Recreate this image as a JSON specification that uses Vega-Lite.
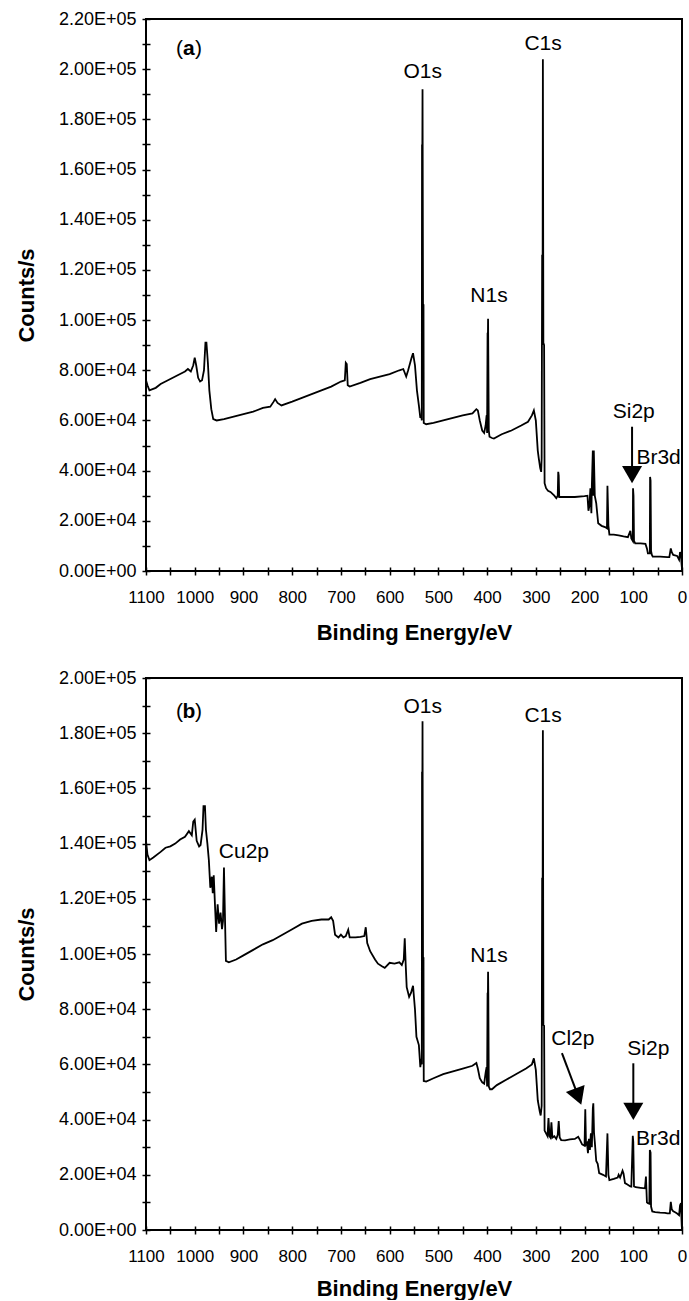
{
"$schema": "https://vega.github.io/schema/vega-lite/v6.json",
"padding": {"left": 14, "top": 9, "right": 4, "bottom": 0},
"background": "white",
"spacing": 24,
"config": {
  "view": {"stroke": "black", "strokeWidth": 2},
  "font": "Liberation Sans",
  "axis": {"domain": false, "grid": false, "offset": -4, "tickSize": 8, "tickWidth": 1.5, "tickColor": "black",
    "labelFont": "Liberation Sans", "labelColor": "black", "labelOverlap": false, "labelFlush": false,
    "titleFont": "Liberation Sans", "titleFontSize": 22, "titleFontWeight": "bold", "titleColor": "black"},
  "axisX": {"labelPadding": 14, "labelFontSize": 17},
  "axisY": {"labelPadding": 6, "titlePadding": 20, "labelFontSize": 18}
},
"datasets": {
  "sa": [
    {"E":1100,"c":76000},{"E":1097,"c":74000},{"E":1093,"c":72000},{"E":1080,"c":73000},{"E":1070,"c":74500},{"E":1060,"c":75500},{"E":1050,"c":76500},{"E":1040,"c":77500},{"E":1030,"c":78500},{"E":1020,"c":79500},{"E":1014,"c":80500},{"E":1008,"c":79500},{"E":1003,"c":82000},{"E":1000,"c":85000},{"E":997,"c":82000},{"E":993,"c":77000},{"E":989,"c":75500},{"E":985,"c":76000},{"E":981,"c":80000},{"E":978,"c":91000},{"E":976,"c":91000},{"E":973,"c":83000},{"E":970,"c":72000},{"E":966,"c":64500},{"E":962,"c":60500},{"E":955,"c":60000},{"E":940,"c":60500},{"E":920,"c":61500},{"E":900,"c":62500},{"E":880,"c":63500},{"E":860,"c":65000},{"E":845,"c":65500},{"E":838,"c":67500},{"E":835,"c":68500},{"E":830,"c":67000},{"E":822,"c":66000},{"E":800,"c":67500},{"E":780,"c":69000},{"E":760,"c":70500},{"E":740,"c":72000},{"E":720,"c":73500},{"E":700,"c":75500},{"E":692,"c":76000},{"E":690,"c":83000},{"E":688,"c":82500},{"E":686,"c":74000},{"E":682,"c":73500},{"E":660,"c":75000},{"E":640,"c":76500},{"E":620,"c":77500},{"E":600,"c":78500},{"E":580,"c":80000},{"E":572,"c":80500},{"E":566,"c":77500},{"E":562,"c":80000},{"E":555,"c":85000},{"E":552,"c":86800},{"E":548,"c":82000},{"E":544,"c":72000},{"E":540,"c":66000},{"E":537,"c":61000},{"E":535,"c":62000},{"E":534,"c":60000},{"E":533.5,"c":170000},{"E":533,"c":160000},{"E":532.5,"c":192000},{"E":531.5,"c":106000},{"E":530.5,"c":106000},{"E":530,"c":59000},{"E":525,"c":58500},{"E":510,"c":59000},{"E":490,"c":60000},{"E":470,"c":61000},{"E":450,"c":62000},{"E":430,"c":62800},{"E":422,"c":64500},{"E":419,"c":64000},{"E":415,"c":60000},{"E":410,"c":56000},{"E":406,"c":55000},{"E":403,"c":58000},{"E":401,"c":62000},{"E":400,"c":55000},{"E":399,"c":95000},{"E":398.5,"c":90000},{"E":398,"c":100500},{"E":397.5,"c":86000},{"E":396.5,"c":56000},{"E":395,"c":53500},{"E":390,"c":53000},{"E":386,"c":52800},{"E":370,"c":54500},{"E":350,"c":56000},{"E":330,"c":58000},{"E":316,"c":59500},{"E":308,"c":62000},{"E":304,"c":64000},{"E":300,"c":60000},{"E":296,"c":48000},{"E":294,"c":45000},{"E":291,"c":41000},{"E":289,"c":39500},{"E":288,"c":45000},{"E":287,"c":126000},{"E":286,"c":120000},{"E":285.5,"c":204000},{"E":284.5,"c":91000},{"E":283,"c":90000},{"E":282,"c":35000},{"E":279,"c":33000},{"E":275,"c":32000},{"E":270,"c":31500},{"E":262,"c":30000},{"E":258,"c":29000},{"E":255,"c":30000},{"E":254,"c":39500},{"E":253,"c":38000},{"E":252,"c":29500},{"E":249,"c":29500},{"E":240,"c":29500},{"E":220,"c":29500},{"E":200,"c":29800},{"E":194,"c":30000},{"E":192,"c":24000},{"E":190,"c":26000},{"E":188,"c":33000},{"E":186,"c":23000},{"E":185,"c":34000},{"E":183,"c":48000},{"E":182,"c":30000},{"E":181,"c":48000},{"E":179,"c":30000},{"E":176,"c":27000},{"E":172,"c":19000},{"E":165,"c":18000},{"E":158,"c":17500},{"E":154,"c":17000},{"E":153,"c":34000},{"E":151,"c":18000},{"E":149,"c":14500},{"E":140,"c":14500},{"E":130,"c":14200},{"E":120,"c":13800},{"E":111,"c":13500},{"E":106,"c":16000},{"E":104,"c":13000},{"E":101,"c":12000},{"E":100.5,"c":33000},{"E":99.5,"c":30000},{"E":98.5,"c":12000},{"E":96,"c":11000},{"E":85,"c":11000},{"E":75,"c":10800},{"E":72,"c":9000},{"E":70,"c":7000},{"E":66,"c":7000},{"E":65.5,"c":37500},{"E":64.5,"c":36000},{"E":63.5,"c":8000},{"E":62,"c":6500},{"E":60,"c":5700},{"E":45,"c":5700},{"E":30,"c":5500},{"E":26,"c":5500},{"E":23,"c":9000},{"E":21,"c":7500},{"E":18,"c":6400},{"E":10,"c":6000},{"E":6,"c":4500},{"E":4,"c":7500},{"E":2,"c":6500},{"E":1,"c":3000},{"E":0,"c":800}
  ],
  "sb": [
    {"E":1100,"c":141000},{"E":1097,"c":136000},{"E":1093,"c":134000},{"E":1085,"c":135000},{"E":1070,"c":137000},{"E":1060,"c":138500},{"E":1050,"c":139000},{"E":1040,"c":140000},{"E":1030,"c":141500},{"E":1020,"c":142500},{"E":1012,"c":144500},{"E":1006,"c":143000},{"E":1003,"c":148000},{"E":1000,"c":148700},{"E":996,"c":141000},{"E":991,"c":139000},{"E":988,"c":139500},{"E":984,"c":145000},{"E":982,"c":153600},{"E":979,"c":153600},{"E":977,"c":145000},{"E":974,"c":140000},{"E":971,"c":134000},{"E":968,"c":124000},{"E":965,"c":128000},{"E":963,"c":122000},{"E":961,"c":128500},{"E":958,"c":116000},{"E":956,"c":108000},{"E":953,"c":118000},{"E":950,"c":111000},{"E":947,"c":115000},{"E":944,"c":109000},{"E":942,"c":112000},{"E":940,"c":131300},{"E":938,"c":113800},{"E":936,"c":97500},{"E":930,"c":97000},{"E":915,"c":98000},{"E":900,"c":99500},{"E":880,"c":101500},{"E":860,"c":103500},{"E":840,"c":105000},{"E":820,"c":107000},{"E":800,"c":109000},{"E":780,"c":111000},{"E":760,"c":112000},{"E":740,"c":112500},{"E":725,"c":112500},{"E":720,"c":113300},{"E":716,"c":112000},{"E":712,"c":107000},{"E":705,"c":106000},{"E":700,"c":107000},{"E":695,"c":106000},{"E":690,"c":106500},{"E":685,"c":108800},{"E":682,"c":106000},{"E":670,"c":106000},{"E":660,"c":106200},{"E":652,"c":106500},{"E":649,"c":109700},{"E":646,"c":104000},{"E":640,"c":101000},{"E":630,"c":98000},{"E":624,"c":96500},{"E":615,"c":95500},{"E":610,"c":95000},{"E":600,"c":96800},{"E":590,"c":96500},{"E":580,"c":97000},{"E":575,"c":96000},{"E":571,"c":98000},{"E":569,"c":105700},{"E":567,"c":96000},{"E":565,"c":88000},{"E":560,"c":84500},{"E":556,"c":86000},{"E":552,"c":88500},{"E":548,"c":80000},{"E":545,"c":70000},{"E":540,"c":67000},{"E":537,"c":59000},{"E":535,"c":62000},{"E":534,"c":60000},{"E":533.5,"c":166000},{"E":533,"c":150000},{"E":532.5,"c":184300},{"E":531.5,"c":98500},{"E":530.5,"c":98500},{"E":530,"c":54000},{"E":525,"c":53800},{"E":510,"c":55000},{"E":490,"c":56500},{"E":470,"c":57500},{"E":450,"c":58500},{"E":430,"c":59500},{"E":422,"c":60500},{"E":419,"c":58500},{"E":415,"c":55000},{"E":410,"c":53500},{"E":406,"c":53000},{"E":403,"c":57000},{"E":401,"c":59000},{"E":400,"c":52000},{"E":399,"c":86000},{"E":398.5,"c":80000},{"E":398,"c":93600},{"E":397.5,"c":85800},{"E":396.5,"c":52000},{"E":394,"c":51000},{"E":390,"c":51000},{"E":380,"c":52500},{"E":360,"c":54500},{"E":340,"c":56500},{"E":320,"c":58500},{"E":308,"c":60000},{"E":304,"c":62200},{"E":300,"c":58000},{"E":296,"c":47000},{"E":292,"c":43000},{"E":290,"c":41500},{"E":288,"c":45000},{"E":287,"c":127600},{"E":286,"c":120000},{"E":285.5,"c":181100},{"E":284.5,"c":74300},{"E":283,"c":74000},{"E":282,"c":36000},{"E":279,"c":35000},{"E":276,"c":34000},{"E":274,"c":40600},{"E":272,"c":34000},{"E":270,"c":33500},{"E":268,"c":39000},{"E":266,"c":33500},{"E":262,"c":34000},{"E":258,"c":33000},{"E":255,"c":34500},{"E":253,"c":39500},{"E":251,"c":33500},{"E":248,"c":32600},{"E":240,"c":32500},{"E":230,"c":32800},{"E":220,"c":33000},{"E":213,"c":33800},{"E":209,"c":32500},{"E":205,"c":31000},{"E":200,"c":30500},{"E":198.5,"c":43700},{"E":197,"c":31000},{"E":195,"c":31500},{"E":193,"c":27800},{"E":191,"c":33000},{"E":189,"c":29000},{"E":187,"c":35000},{"E":185,"c":30000},{"E":183,"c":44000},{"E":182,"c":45900},{"E":180.5,"c":35000},{"E":179,"c":32000},{"E":176,"c":25000},{"E":173,"c":24000},{"E":170,"c":20600},{"E":162,"c":20000},{"E":156,"c":19400},{"E":153,"c":35000},{"E":151,"c":20000},{"E":149,"c":18100},{"E":140,"c":18500},{"E":132,"c":19000},{"E":130,"c":20000},{"E":127,"c":19000},{"E":122,"c":21500},{"E":120,"c":20500},{"E":117,"c":17000},{"E":112,"c":16500},{"E":106,"c":15800},{"E":104,"c":15700},{"E":101,"c":34100},{"E":100,"c":32000},{"E":98.5,"c":15800},{"E":95,"c":15500},{"E":85,"c":15300},{"E":76,"c":15100},{"E":74,"c":19400},{"E":72,"c":10000},{"E":70,"c":9700},{"E":67,"c":9500},{"E":66,"c":29000},{"E":64.5,"c":28000},{"E":63.5,"c":8500},{"E":61,"c":6700},{"E":55,"c":6500},{"E":45,"c":6300},{"E":35,"c":6200},{"E":30,"c":6000},{"E":25,"c":6000},{"E":23,"c":10200},{"E":21,"c":7500},{"E":18,"c":6800},{"E":15,"c":6500},{"E":10,"c":6000},{"E":6,"c":5400},{"E":4,"c":9000},{"E":2,"c":9700},{"E":1.5,"c":6000},{"E":0.5,"c":1500},{"E":0,"c":500}
  ],
  "la": [{"E":532,"c":198700,"t":"O1s"},{"E":285,"c":209950,"t":"C1s"},{"E":396,"c":109800,"t":"N1s"},{"E":99,"c":63200,"t":"Si2p"},{"E":48,"c":45200,"t":"Br3d"}],
  "lb": [{"E":532,"c":189400,"t":"O1s"},{"E":285,"c":186400,"t":"C1s"},{"E":899,"c":136800,"t":"Cu2p"},{"E":396,"c":99400,"t":"N1s"},{"E":224,"c":69200,"t":"Cl2p"},{"E":69,"c":65500,"t":"Si2p"},{"E":49,"c":32900,"t":"Br3d"}],
  "pa": [{"E":1012,"c":208100,"t":"a"}],
  "pb": [{"E":1012,"c":187600,"t":"b"}],
  "ra": [{"E":102.5,"c":57500,"E2":102.5,"c2":40300}],
  "ha": [{"E":102.5,"c":38400}],
  "rb": [{"E":246.4,"c":64100,"E2":215.6,"c2":49700},{"E":99.9,"c":60400,"E2":99.9,"c2":45000}],
  "hb": [{"E":99.9,"c":43000}],
  "hc": [{"E":212.9,"c":48300}]
},
"vconcat": [
  {
    "width": 536, "height": 552,
    "encoding": {
      "x": {"field": "E", "type": "quantitative", "title": "Binding Energy/eV",
        "scale": {"domain": [0, 1100], "reverse": true, "nice": false, "zero": false},
        "axis": {"titlePadding": 17, "values": [0,50,100,150,200,250,300,350,400,450,500,550,600,650,700,750,800,850,900,950,1000,1050,1100], "format": "d", "labelExpr": "datum.value % 100 == 0 ? datum.label : ''"}},
      "y": {"field": "c", "type": "quantitative", "title": "Counts/s",
        "scale": {"domain": [0, 220000], "nice": false, "zero": false},
        "axis": {"values": [0,10000,20000,30000,40000,50000,60000,70000,80000,90000,100000,110000,120000,130000,140000,150000,160000,170000,180000,190000,200000,210000,220000], "labelExpr": "datum.value % 20000 == 0 ? upper(replace(format(datum.value, '.2e'), 'e+', 'e+0')) : ''"}}
    },
    "layer": [
      {"data": {"name": "sa"}, "mark": {"type": "line", "color": "black", "strokeWidth": 1.8}},
      {"data": {"name": "la"}, "mark": {"type": "text", "fontSize": 21, "color": "black", "baseline": "middle", "align": "center"}, "encoding": {"text": {"field": "t"}}},
      {"data": {"name": "pa"}, "mark": {"type": "text", "fontSize": 21, "fontWeight": "bold", "color": "black", "baseline": "middle", "align": "center"}, "encoding": {"text": {"field": "t"}}},
      {"data": {"name": "pa"}, "mark": {"type": "text", "text": "(", "fontSize": 21, "color": "black", "baseline": "middle", "align": "right", "dx": -6}},
      {"data": {"name": "pa"}, "mark": {"type": "text", "text": ")", "fontSize": 21, "color": "black", "baseline": "middle", "align": "left", "dx": 6}},
      {"data": {"name": "ra"}, "mark": {"type": "rule", "color": "black", "strokeWidth": 2}, "encoding": {"x2": {"field": "E2"}, "y2": {"field": "c2"}}},
      {"data": {"name": "ha"}, "mark": {"type": "point", "shape": "triangle-down", "filled": true, "color": "black", "opacity": 1, "size": 400, "strokeWidth": 0}}
    ]
  },
  {
    "width": 536, "height": 552,
    "encoding": {
      "x": {"field": "E", "type": "quantitative", "title": "Binding Energy/eV",
        "scale": {"domain": [0, 1100], "reverse": true, "nice": false, "zero": false},
        "axis": {"titlePadding": 14, "values": [0,50,100,150,200,250,300,350,400,450,500,550,600,650,700,750,800,850,900,950,1000,1050,1100], "format": "d", "labelExpr": "datum.value % 100 == 0 ? datum.label : ''"}},
      "y": {"field": "c", "type": "quantitative", "title": "Counts/s",
        "scale": {"domain": [0, 200000], "nice": false, "zero": false},
        "axis": {"values": [0,10000,20000,30000,40000,50000,60000,70000,80000,90000,100000,110000,120000,130000,140000,150000,160000,170000,180000,190000,200000], "labelExpr": "datum.value % 20000 == 0 ? upper(replace(format(datum.value, '.2e'), 'e+', 'e+0')) : ''"}}
    },
    "layer": [
      {"data": {"name": "sb"}, "mark": {"type": "line", "color": "black", "strokeWidth": 1.8}},
      {"data": {"name": "lb"}, "mark": {"type": "text", "fontSize": 21, "color": "black", "baseline": "middle", "align": "center"}, "encoding": {"text": {"field": "t"}}},
      {"data": {"name": "pb"}, "mark": {"type": "text", "fontSize": 21, "fontWeight": "bold", "color": "black", "baseline": "middle", "align": "center"}, "encoding": {"text": {"field": "t"}}},
      {"data": {"name": "pb"}, "mark": {"type": "text", "text": "(", "fontSize": 21, "color": "black", "baseline": "middle", "align": "right", "dx": -6}},
      {"data": {"name": "pb"}, "mark": {"type": "text", "text": ")", "fontSize": 21, "color": "black", "baseline": "middle", "align": "left", "dx": 6}},
      {"data": {"name": "rb"}, "mark": {"type": "rule", "color": "black", "strokeWidth": 2}, "encoding": {"x2": {"field": "E2"}, "y2": {"field": "c2"}}},
      {"data": {"name": "hb"}, "mark": {"type": "point", "shape": "triangle-down", "filled": true, "color": "black", "opacity": 1, "size": 400, "strokeWidth": 0}},
      {"data": {"name": "hc"}, "mark": {"type": "point", "shape": "triangle-down", "filled": true, "color": "black", "opacity": 1, "size": 400, "strokeWidth": 0, "angle": -20.5}}
    ]
  }
]
}
